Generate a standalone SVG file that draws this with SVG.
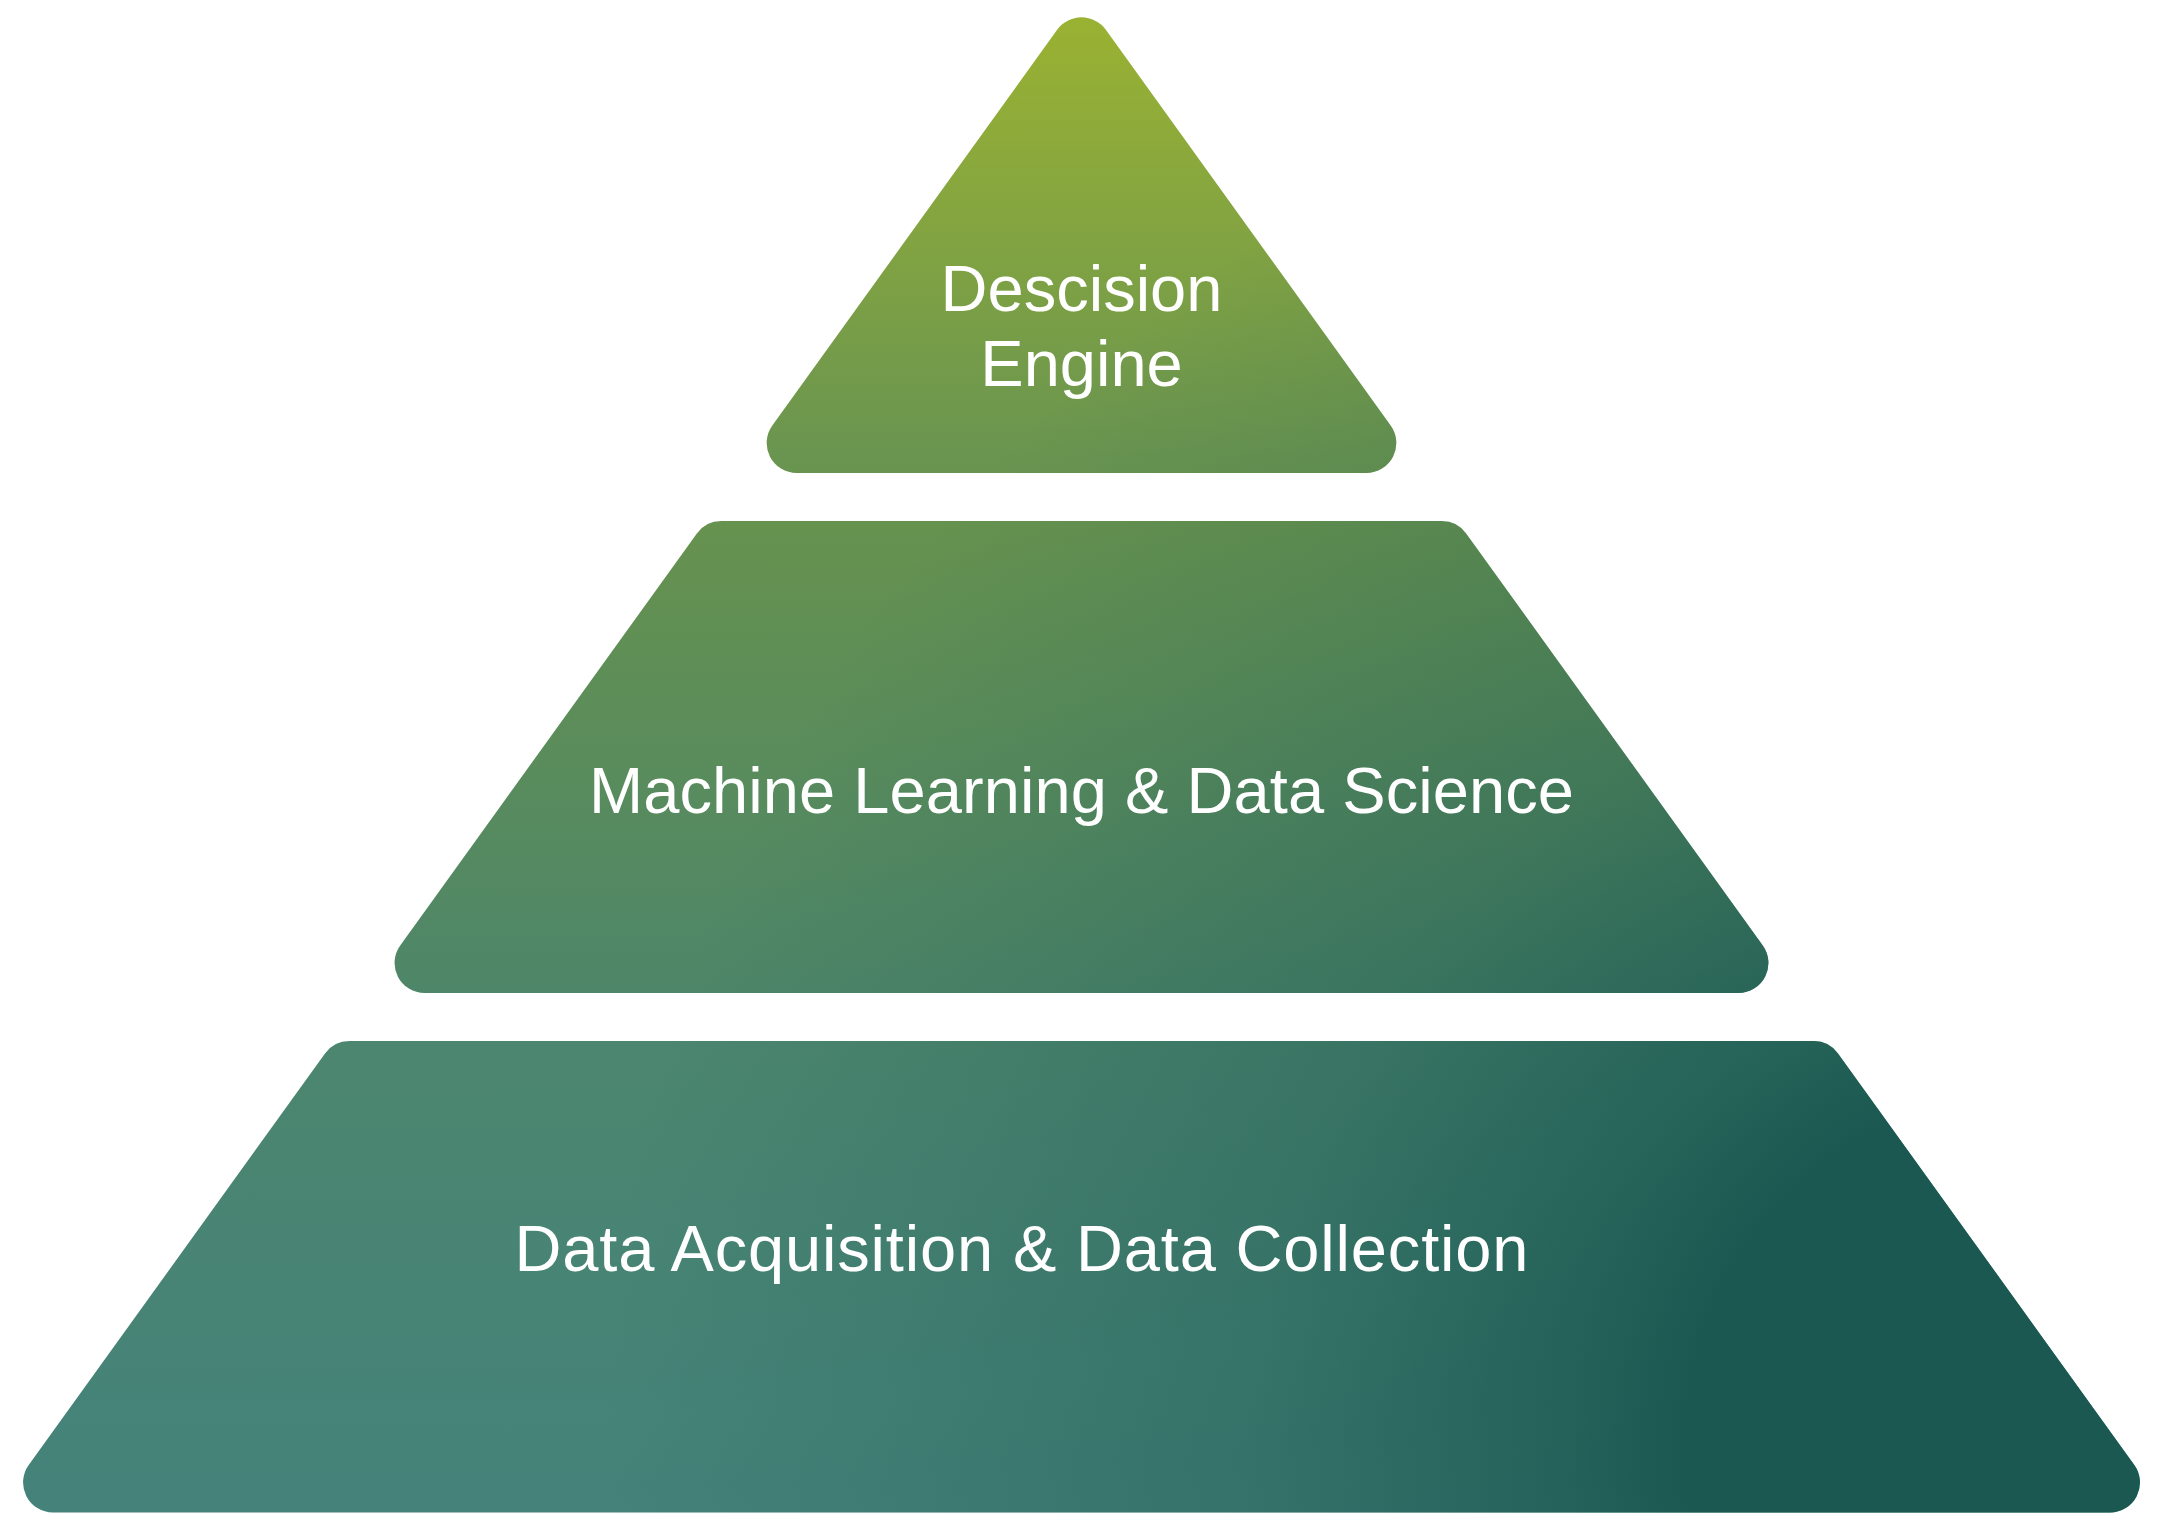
<svg xmlns="http://www.w3.org/2000/svg" xmlns:xlink="http://www.w3.org/1999/xlink" width="2163" height="1513" viewBox="0 0 2163 1513">
  <defs>
    <linearGradient id="baseGrad" gradientUnits="userSpaceOnUse" x1="0" y1="0" x2="0" y2="1513">
      <stop offset="0" stop-color="#9CB332"/>
      <stop offset="0.03" stop-color="#97B034"/>
      <stop offset="0.30" stop-color="#6A9550"/>
      <stop offset="0.35" stop-color="#66924F"/>
      <stop offset="0.65" stop-color="#4E8668"/>
      <stop offset="0.69" stop-color="#4C866F"/>
      <stop offset="1" stop-color="#44827A"/>
    </linearGradient>
    <radialGradient id="shadeGrad" gradientUnits="userSpaceOnUse" cx="2050" cy="1450" r="1450">
      <stop offset="0" stop-color="#1A5851" stop-opacity="1"/>
      <stop offset="0.25" stop-color="#1A5851" stop-opacity="1"/>
      <stop offset="0.33" stop-color="#1A5851" stop-opacity="0.78"/>
      <stop offset="0.55" stop-color="#1A5851" stop-opacity="0.38"/>
      <stop offset="0.8" stop-color="#1A5851" stop-opacity="0.15"/>
      <stop offset="1" stop-color="#1A5851" stop-opacity="0"/>
    </radialGradient>
    <path id="shape-top" d="M1057.15,29.82 A30,30 0 0 1 1105.85,29.82 L1390.68,425.47 A30,30 0 0 1 1366.33,473 L796.67,473 A30,30 0 0 1 772.32,425.47 Z"/>
    <path id="shape-mid" d="M696.86,533.47 A30,30 0 0 1 721.21,521 L1441.79,521 A30,30 0 0 1 1466.14,533.47 L1762.78,945.47 A30,30 0 0 1 1738.43,993 L424.57,993 A30,30 0 0 1 400.22,945.47 Z"/>
    <path id="shape-bot" d="M325.02,1053.47 A30,30 0 0 1 349.37,1041 L1813.63,1041 A30,30 0 0 1 1837.98,1053.47 L2134.28,1464.97 A30,30 0 0 1 2109.93,1512.5 L53.07,1512.5 A30,30 0 0 1 28.72,1464.97 Z"/>
  </defs>
  <style>
    .base { fill: url(#baseGrad); }
    .shade { fill: url(#shadeGrad); }
    .label { fill: #FFFFFF; font-family: "Liberation Sans", Arial, sans-serif; font-size: 65px; text-anchor: middle; }
  </style>
  <rect width="2163" height="1513" fill="#FFFFFF"/>
  <g id="node-decision-engine">
    <use xlink:href="#shape-top" href="#shape-top" class="base"/>
    <use xlink:href="#shape-top" href="#shape-top" class="shade"/>
    <text class="label" x="1081.5" y="311">Descision</text>
    <text class="label" x="1081.5" y="386">Engine</text>
  </g>
  <g id="node-ml-data-science">
    <use xlink:href="#shape-mid" href="#shape-mid" class="base"/>
    <use xlink:href="#shape-mid" href="#shape-mid" class="shade"/>
    <text class="label" x="1081.5" y="813" textLength="985" lengthAdjust="spacing">Machine Learning &amp; Data Science</text>
  </g>
  <g id="node-data-acquisition">
    <use xlink:href="#shape-bot" href="#shape-bot" class="base"/>
    <use xlink:href="#shape-bot" href="#shape-bot" class="shade"/>
    <text class="label" x="1021.5" y="1270.5" textLength="1014" lengthAdjust="spacing">Data Acquisition &amp; Data Collection</text>
  </g>
  <g id="connectors"/>
</svg>
